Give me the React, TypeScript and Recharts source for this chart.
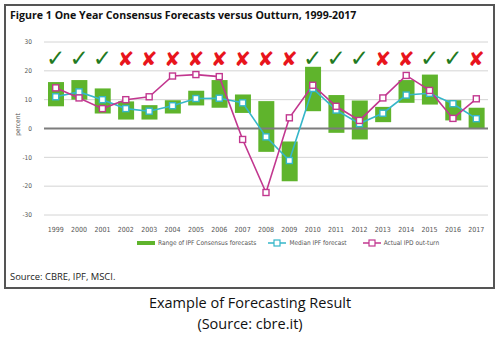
import React from 'react';
import { ComposedChart, Bar, Line, XAxis, YAxis, CartesianGrid, ReferenceLine } from 'recharts';

const years = ['1999', '2000', '2001', '2002', '2003', '2004', '2005', '2006', '2007', '2008', '2009', '2010', '2011', '2012', '2013', '2014', '2015', '2016', '2017'];
const rangeLow = [7.7, 10, 5.2, 3.1, 3.1, 5.2, 8, 7.2, 5.4, -8.1, -18.3, 6, -1.5, -3.8, 2.2, 8.9, 8.3, 2.8, 0];
const rangeHigh = [16.1, 16.8, 13.9, 9.4, 8.1, 9.8, 13.1, 16.8, 11.8, 9.5, -4.5, 21.4, 11.6, 9.7, 7.5, 16.8, 18.7, 9.8, 7.2];
const medianForecast = [11, 12.7, 10, 6.9, 6, 7.9, 10.4, 10.5, 8.9, -2.9, -11.1, 13.9, 6.4, 1.7, 5.3, 11.6, 12.2, 8.6, 3.4];
const actualOutturn = [14.1, 10.6, 6.9, 10, 11, 18.2, 18.7, 18, -3.8, -22.2, 3.7, 15, 7.7, 2.8, 10.6, 18.4, 13.2, 3.5, 10.3];
const hits = [true, true, true, false, false, false, false, false, false, false, false, true, true, true, false, false, true, true, false];
const yTicks = [-30, -20, -10, 0, 10, 20, 30];

const GREEN = '#5fb42c';
const CYAN = '#35b6c9';
const MAGENTA = '#c2378f';
const SMALL_FONT = "'Liberation Sans Narrow', 'DejaVu Sans Condensed', sans-serif";

const data = years.map((year, i) => ({
  year,
  range: [rangeLow[i], rangeHigh[i]],
  median: medianForecast[i],
  actual: actualOutturn[i],
}));

const squareDot = (color: string) => (props: any) => {
  const { cx, cy, index } = props;
  if (cx == null || cy == null) return null;
  return <rect key={index} x={cx - 3} y={cy - 3} width={6} height={6} fill="#fff" stroke={color} strokeWidth={1.4} />;
};

// year label under the axis, hit/miss mark near the top of the plot
const YearTick = (props: any) => {
  const { x, y, payload, index } = props;
  const ok = hits[index ?? payload.index];
  return (
    <g>
      <text x={x} y={y} dy={7} textAnchor="middle" fontSize={7} fill="#555" fontFamily={SMALL_FONT}>
        {payload.value}
      </text>
      <text
        x={x}
        y={y - 159}
        textAnchor="middle"
        fontSize={ok ? 23 : 20}
        fontWeight="bold"
        fill={ok ? '#1f7a22' : '#e8141c'}
        fontFamily="'DejaVu Sans', sans-serif"
      >
        {ok ? '✓' : '✘'}
      </text>
    </g>
  );
};

const LegendIcon = ({ color, line }: { color: string; line?: boolean }) => (
  <svg width={18} height={8} style={{ marginRight: 3 }}>
    {line ? (
      <>
        <line x1={0} y1={4} x2={18} y2={4} stroke={color} strokeWidth={1.5} />
        <rect x={6} y={1} width={6} height={6} fill="#fff" stroke={color} strokeWidth={1.2} />
      </>
    ) : (
      <rect x={0} y={2} width={18} height={4} fill={color} />
    )}
  </svg>
);

export default function App() {
  return (
    <div style={{ position: 'absolute', left: 0, top: 0, width: 502, height: 341, background: '#fff', overflow: 'hidden' }}>
      <div
        style={{
          position: 'absolute',
          left: 4,
          top: 4,
          width: 487,
          height: 281,
          border: '2px solid #555',
        }}
      />
      <div
        style={{
          position: 'absolute',
          left: 10,
          top: 8,
          fontFamily: "'Open Sans', sans-serif",
          fontWeight: 'bold',
          fontSize: 10.6,
          color: '#111',
          whiteSpace: 'nowrap',
        }}
      >
        Figure 1 One Year Consensus Forecasts versus Outturn, 1999-2017
      </div>
      <div style={{ position: 'absolute', left: 0, top: 0 }}>
        <ComposedChart width={502} height={341} data={data} margin={{ top: 42, right: 14, left: 10, bottom: 106 }}>
          <CartesianGrid vertical={false} stroke="#d4d4d4" strokeWidth={1} />
          <XAxis
            dataKey="year"
            interval={0}
            axisLine={false}
            tickLine={false}
            height={20}
            tickMargin={4}
            tick={<YearTick />}
          />
          <YAxis
            domain={[-30, 30]}
            ticks={yTicks}
            interval={0}
            axisLine={false}
            tickLine={false}
            width={34}
            tickMargin={6}
            tick={{ fontSize: 6.5, fill: '#555', fontFamily: SMALL_FONT }}
            label={{ value: 'percent', angle: -90, position: 'insideLeft', offset: 8, dy: -4, style: { fontSize: 6.5, fill: '#555', fontFamily: SMALL_FONT, textAnchor: 'middle' } }}
          />
          <ReferenceLine y={0} stroke="#7d7d7d" strokeWidth={2} />
          <Bar dataKey="range" fill={GREEN} barSize={16} isAnimationActive={false} />
          <Line
            dataKey="median"
            stroke={CYAN}
            strokeWidth={1.6}
            dot={squareDot(CYAN)}
            activeDot={false}
            isAnimationActive={false}
          />
          <Line
            dataKey="actual"
            stroke={MAGENTA}
            strokeWidth={1.6}
            dot={squareDot(MAGENTA)}
            activeDot={false}
            isAnimationActive={false}
          />
        </ComposedChart>
      </div>
      <div
        style={{
          position: 'absolute',
          left: 137,
          top: 239,
          display: 'flex',
          alignItems: 'center',
          fontFamily: SMALL_FONT,
          fontSize: 6.5,
          color: '#555',
          whiteSpace: 'nowrap',
        }}
      >
        <LegendIcon color={GREEN} />
        <span style={{ marginRight: 12 }}>Range of IPF Consensus forecasts</span>
        <LegendIcon color={CYAN} line />
        <span style={{ marginRight: 16 }}>Median IPF forecast</span>
        <LegendIcon color={MAGENTA} line />
        <span>Actual IPD out-turn</span>
      </div>
      <div
        style={{
          position: 'absolute',
          left: 10,
          top: 270,
          fontFamily: "'Open Sans', sans-serif",
          fontSize: 9.4,
          color: '#222',
          whiteSpace: 'nowrap',
        }}
      >
        Source: CBRE, IPF, MSCI.
      </div>
      <div
        style={{
          position: 'absolute',
          left: 0,
          width: 500,
          top: 292,
          textAlign: 'center',
          fontFamily: "'Open Sans', sans-serif",
          fontSize: 14.5,
          lineHeight: '21px',
          color: '#111',
        }}
      >
        Example of Forecasting Result
        <br />
        (Source: cbre.it)
      </div>
    </div>
  );
}
